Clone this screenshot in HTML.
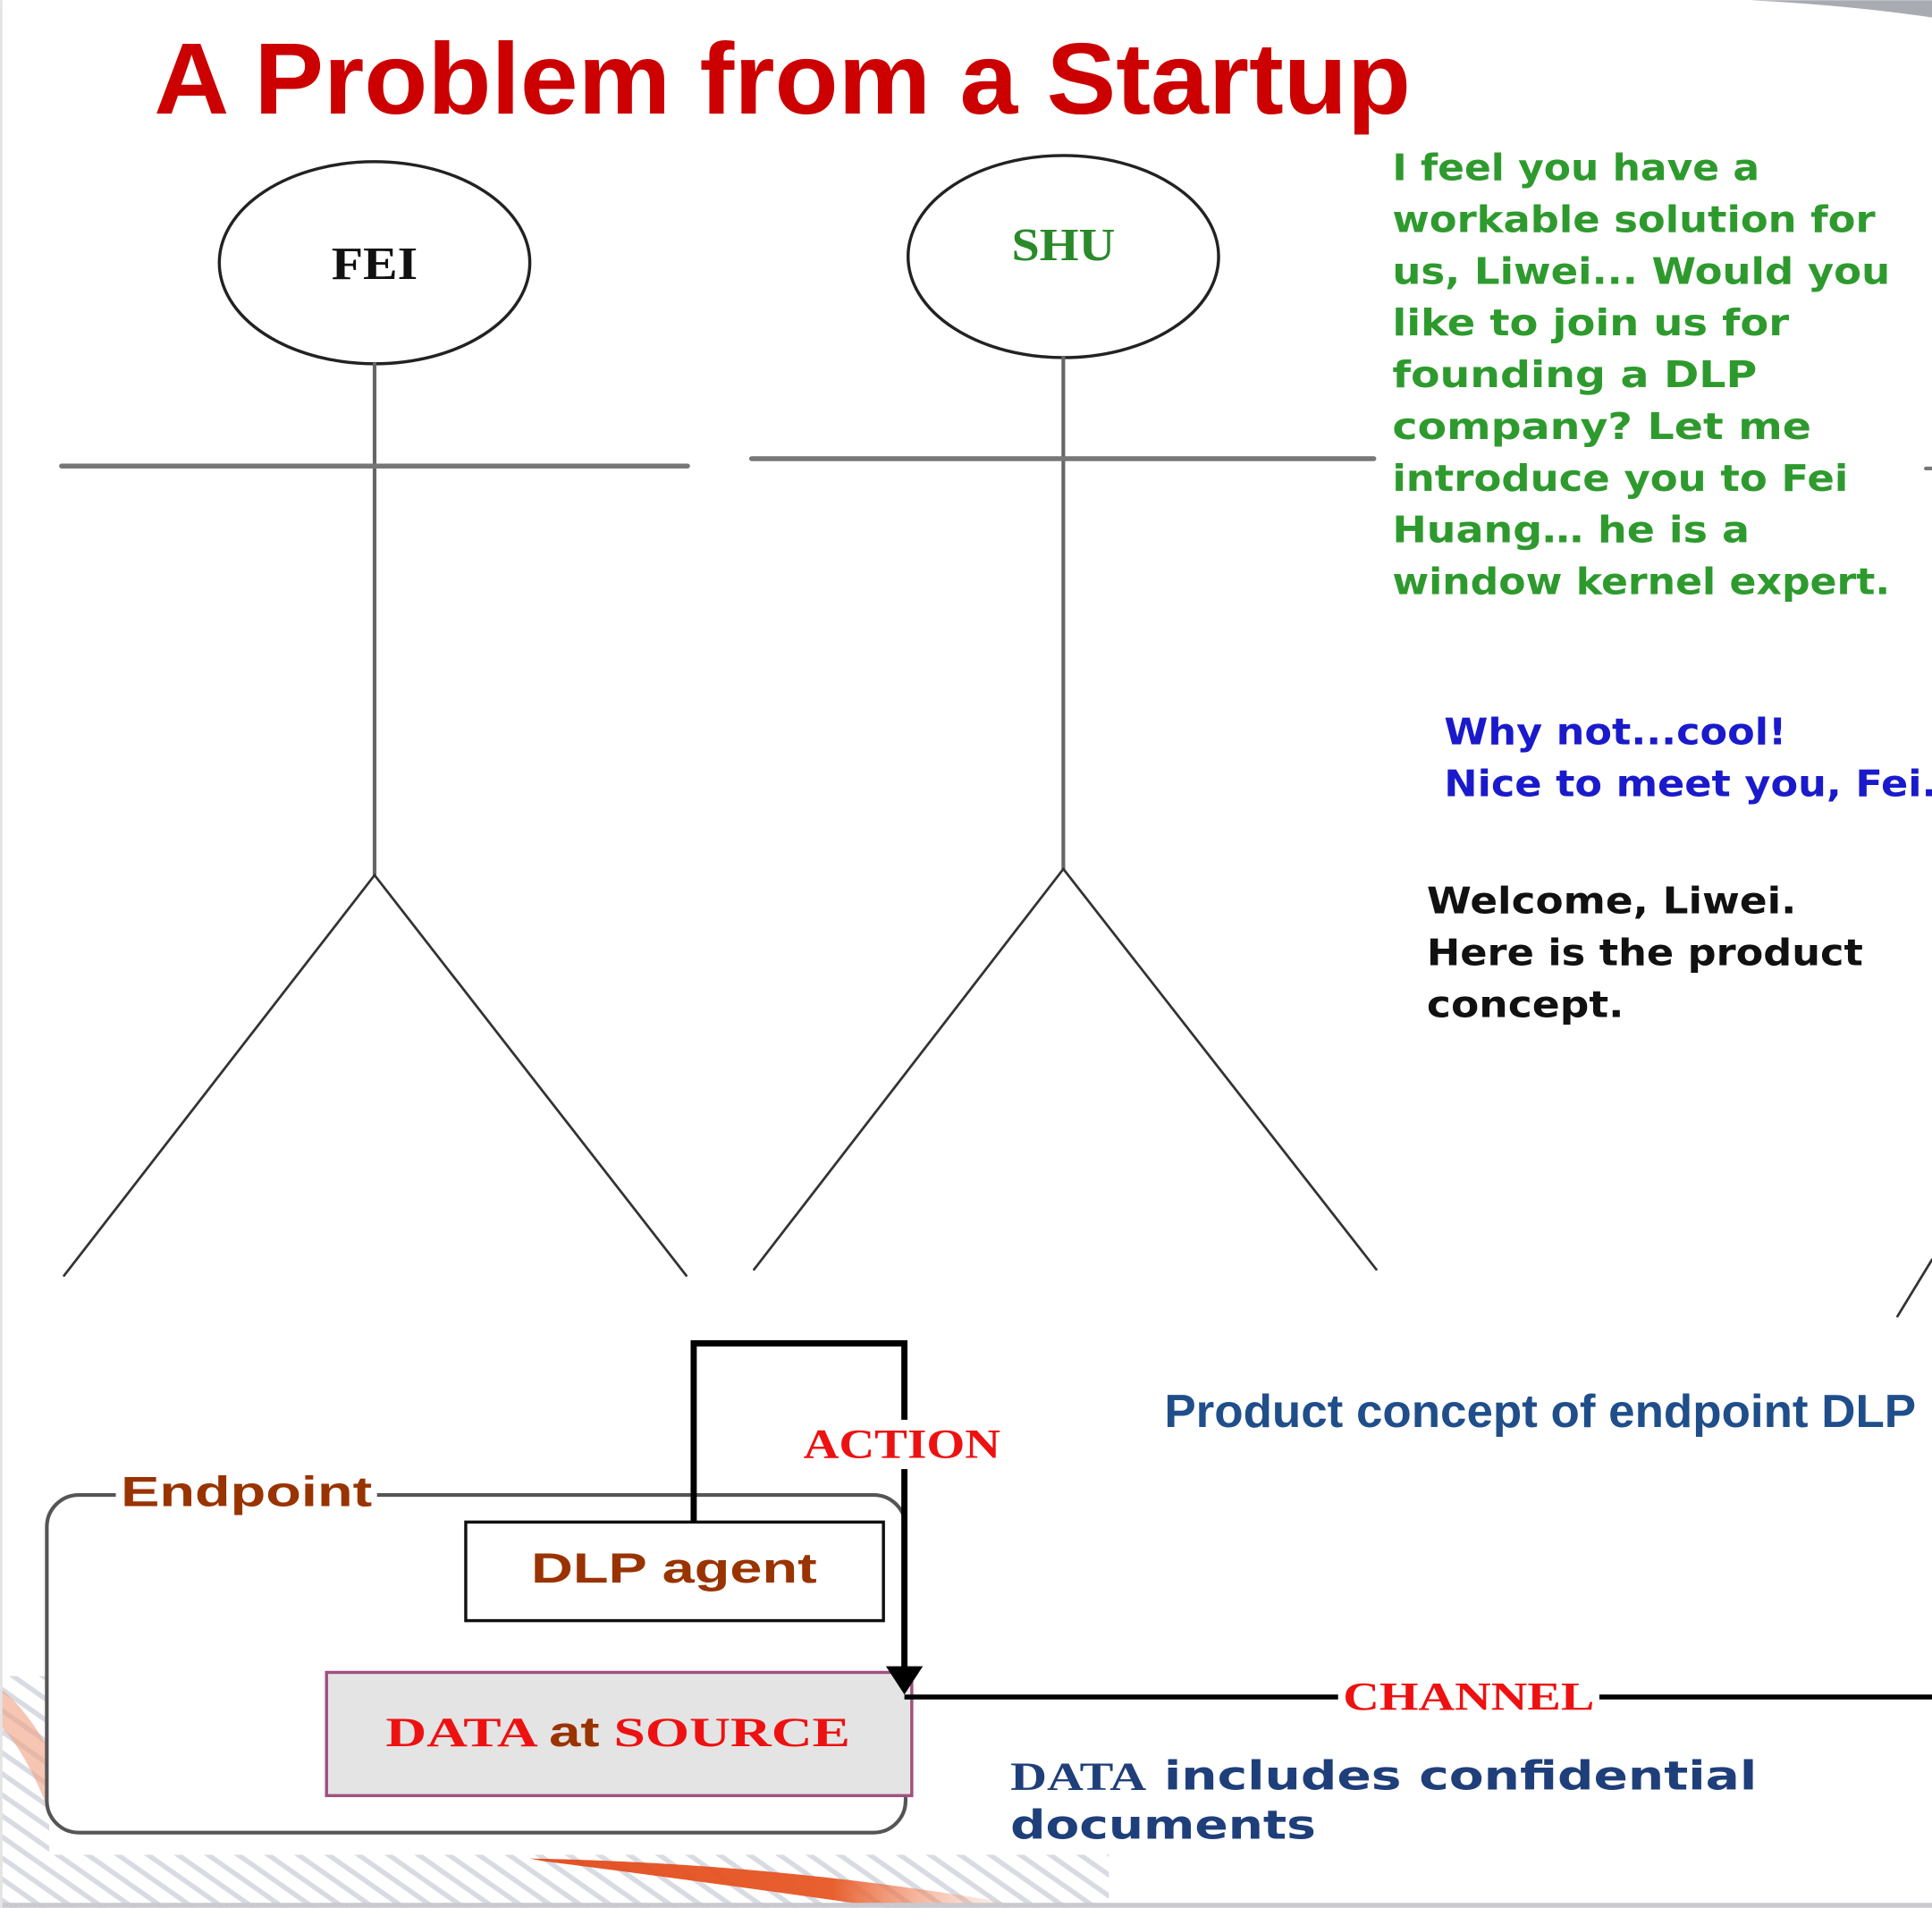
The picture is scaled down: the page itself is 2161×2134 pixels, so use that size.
<!DOCTYPE html>
<html><head><meta charset="utf-8"><style>
html,body{margin:0;padding:0;background:#fff;overflow:hidden}
svg{display:block}
</style></head><body>
<svg width="2161" height="2134" viewBox="0 0 1568 1548" xmlns="http://www.w3.org/2000/svg">
<defs>
<linearGradient id="sw" x1="0" y1="0" x2="1" y2="0">
<stop offset="0" stop-color="#e04010" stop-opacity="0.9"/>
<stop offset="0.6" stop-color="#e86030"/>
<stop offset="1" stop-color="#f8b090" stop-opacity="0"/>
</linearGradient>
<pattern id="st" width="14" height="14" patternUnits="userSpaceOnUse" patternTransform="rotate(35)">
<rect width="14" height="14" fill="#fff"/><rect width="14" height="4" fill="#d8dbe2"/>
</pattern>
</defs>
<rect width="1568" height="1548" fill="#fff"/>
<rect x="0" y="1360" width="40" height="188" fill="url(#st)"/>
<rect x="0" y="1505" width="900" height="43" fill="url(#st)"/>
<path d="M430 1508 Q640 1512 840 1548 L720 1548 Q580 1528 440 1510Z" fill="url(#sw)"/>
<path d="M0 1370 Q20 1385 40 1420 L40 1470 Q20 1420 0 1400Z" fill="#f0a080" opacity="0.6"/>
<path d="M1420 0 L1568 0 L1568 14 Q1500 4 1420 0Z" fill="#a8abb2"/>
<rect x="0" y="1544" width="1568" height="4" fill="#c8cad0"/>
<line x1="1" y1="0" x2="1" y2="1548" stroke="#e4e4e4" stroke-width="2"/>

<text x="125" y="92" font-family="Liberation Sans, sans-serif" font-weight="bold" font-size="82" fill="#cc0000" textLength="1020" lengthAdjust="spacingAndGlyphs">A Problem from a Startup</text>

<g stroke-linecap="round">
<ellipse cx="304" cy="213" rx="126" ry="82" fill="none" stroke="#222" stroke-width="2.5"/>
<line x1="304" y1="295" x2="304" y2="710" stroke="#666" stroke-width="3"/>
<line x1="50" y1="378" x2="558" y2="378" stroke="#777" stroke-width="4"/>
<line x1="304" y1="710" x2="52" y2="1035" stroke="#333" stroke-width="2"/>
<line x1="304" y1="710" x2="557" y2="1035" stroke="#333" stroke-width="2"/>
<ellipse cx="863" cy="208" rx="126" ry="82" fill="none" stroke="#222" stroke-width="2.5"/>
<line x1="863" y1="290" x2="863" y2="705" stroke="#666" stroke-width="3"/>
<line x1="610" y1="372" x2="1115" y2="372" stroke="#777" stroke-width="4"/>
<line x1="863" y1="705" x2="612" y2="1030" stroke="#333" stroke-width="2"/>
<line x1="863" y1="705" x2="1117" y2="1030" stroke="#333" stroke-width="2"/>
<line x1="1563" y1="380" x2="1568" y2="380" stroke="#777" stroke-width="3"/>
<line x1="1540" y1="1068" x2="1568" y2="1022" stroke="#333" stroke-width="2"/>
</g>
<text x="304" y="226" text-anchor="middle" font-family="Liberation Serif, serif" font-weight="bold" font-size="38" fill="#111" textLength="70" lengthAdjust="spacingAndGlyphs">FEI</text>
<text x="863" y="211" text-anchor="middle" font-family="Liberation Serif, serif" font-weight="bold" font-size="38" fill="#2a8a2a" textLength="84" lengthAdjust="spacingAndGlyphs">SHU</text>

<g font-family="DejaVu Sans, sans-serif" font-weight="bold" font-size="30" fill="#2e9a2e">
<text x="1130" y="146" textLength="298" lengthAdjust="spacingAndGlyphs">I feel you have a</text>
<text x="1130" y="188" textLength="392" lengthAdjust="spacingAndGlyphs">workable solution for</text>
<text x="1130" y="230" textLength="404" lengthAdjust="spacingAndGlyphs">us, Liwei... Would you</text>
<text x="1130" y="272" textLength="322" lengthAdjust="spacingAndGlyphs">like to  join us for</text>
<text x="1130" y="314" textLength="296" lengthAdjust="spacingAndGlyphs">founding  a DLP</text>
<text x="1130" y="356" textLength="340" lengthAdjust="spacingAndGlyphs">company?  Let me</text>
<text x="1130" y="398" textLength="370" lengthAdjust="spacingAndGlyphs">introduce you to Fei</text>
<text x="1130" y="440" textLength="290" lengthAdjust="spacingAndGlyphs">Huang… he is a</text>
<text x="1130" y="482" textLength="404" lengthAdjust="spacingAndGlyphs">window kernel expert.</text>
</g>
<g font-family="DejaVu Sans, sans-serif" font-weight="bold" font-size="30" fill="#1a1acc">
<text x="1172" y="604" textLength="278" lengthAdjust="spacingAndGlyphs">Why not...cool!</text>
<text x="1172" y="646" textLength="400" lengthAdjust="spacingAndGlyphs">Nice to meet you, Fei.</text>
</g>
<g font-family="DejaVu Sans, sans-serif" font-weight="bold" font-size="30" fill="#111">
<text x="1158" y="741" textLength="300" lengthAdjust="spacingAndGlyphs">Welcome, Liwei.</text>
<text x="1158" y="783" textLength="354" lengthAdjust="spacingAndGlyphs">Here is the product</text>
<text x="1158" y="825" textLength="160" lengthAdjust="spacingAndGlyphs">concept.</text>
</g>
<text x="945" y="1158" font-family="Liberation Sans Narrow, Liberation Sans, sans-serif" font-weight="bold" font-size="38" fill="#1f4e8a" textLength="610" lengthAdjust="spacingAndGlyphs">Product concept of endpoint DLP</text>

<rect x="38" y="1213" width="697" height="274" rx="26" fill="#fff" stroke="#555" stroke-width="3"/>
<rect x="94" y="1192" width="212" height="40" fill="#fff"/>
<text x="98" y="1222" font-family="Liberation Sans, sans-serif" font-weight="bold" font-size="34" fill="#993300" textLength="204" lengthAdjust="spacingAndGlyphs">Endpoint</text>
<rect x="378" y="1235" width="339" height="80" fill="#fff" stroke="#111" stroke-width="2.5"/>
<text x="547" y="1284" text-anchor="middle" font-family="Liberation Sans, sans-serif" font-weight="bold" font-size="34" fill="#993300" textLength="232" lengthAdjust="spacingAndGlyphs">DLP agent</text>
<rect x="265" y="1357" width="475" height="100" fill="#e4e4e4" stroke="#a05080" stroke-width="2.5"/>
<text x="313" y="1417" font-family="Liberation Serif, serif" font-weight="bold" font-size="34" fill="#ee1111" textLength="377" lengthAdjust="spacingAndGlyphs">DATA  <tspan fill="#993300" font-family="Liberation Sans, sans-serif">at</tspan> SOURCE</text>

<path d="M563 1235 L563 1090 L734 1090 L734 1358" fill="none" stroke="#000" stroke-width="5"/>
<polygon points="719,1352 749,1352 734,1375" fill="#000"/>
<line x1="734" y1="1377" x2="1568" y2="1377" stroke="#000" stroke-width="4"/>
<rect x="648" y="1152" width="168" height="40" fill="#fff"/>
<text x="652" y="1183" font-family="Liberation Serif, serif" font-weight="bold" font-size="34" fill="#ee1111" textLength="160" lengthAdjust="spacingAndGlyphs">ACTION</text>
<rect x="1086" y="1360" width="212" height="34" fill="#fff"/>
<text x="1090" y="1387" font-family="Liberation Serif, serif" font-weight="bold" font-size="32" fill="#ee1111" textLength="204" lengthAdjust="spacingAndGlyphs">CHANNEL</text>

<g font-family="DejaVu Sans, sans-serif" font-weight="bold" font-size="32" fill="#1f3f7a">
<text x="820" y="1452" textLength="606" lengthAdjust="spacingAndGlyphs"><tspan font-family="Liberation Serif, serif">DATA</tspan> includes confidential</text>
<text x="820" y="1492" textLength="248" lengthAdjust="spacingAndGlyphs">documents</text>
</g>
</svg>
</body></html>
